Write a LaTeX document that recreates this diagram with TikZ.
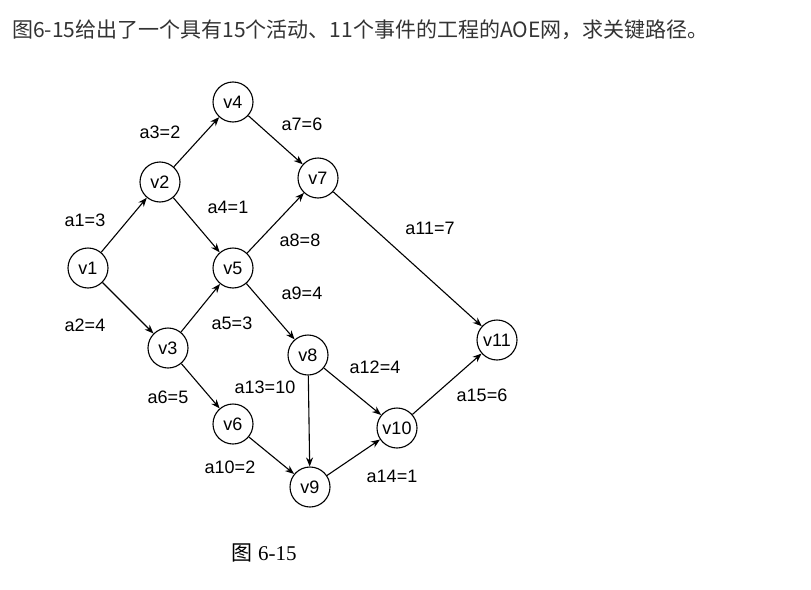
\documentclass[tikz,border=0pt]{standalone}
\usepackage{fontspec}
\setmainfont{Liberation Sans}
\newfontfamily\cjk{Noto Sans CJK SC}
\newfontfamily\serifcjk{Liberation Serif}
\usetikzlibrary{arrows.meta}
\begin{document}
\begin{tikzpicture}[x=1pt,y=-1pt,
  ev/.style={circle,draw,line width=1.1pt,minimum size=40pt,inner sep=0pt,font=\fontsize{18}{18}\selectfont},
  act/.style={-{Stealth[length=9pt,width=7pt]},line width=1.1pt},
  lab/.style={font=\fontsize{18}{18}\selectfont}]
\fill[white] (0,0) rectangle (811,589);
\useasboundingbox (0,0) rectangle (811,589);
\node[anchor=west,text=black!80,font=\cjk\fontsize{21}{21}\selectfont,inner sep=0pt] (title) at (12,30) {图6-15给出了一个具有15个活动、11个事件的工程的AOE网，求关键路径。};
\node[ev] (v1) at (88,268) {v1};
\node[ev] (v2) at (160,182) {v2};
\node[ev] (v3) at (168,348) {v3};
\node[ev] (v4) at (233,102) {v4};
\node[ev] (v5) at (233,268) {v5};
\node[ev] (v6) at (233,424) {v6};
\node[ev] (v7) at (318,178) {v7};
\node[ev] (v8) at (308,355) {v8};
\node[ev] (v9) at (310,487) {v9};
\node[ev] (v10) at (397,428) {v10};
\node[ev] (v11) at (497,340) {v11};
\draw[act] (v1)--(v2); \draw[act] (v1)--(v3);
\draw[act] (v2)--(v4); \draw[act] (v2)--(v5);
\draw[act] (v3)--(v5); \draw[act] (v3)--(v6);
\draw[act] (v4)--(v7); \draw[act] (v5)--(v7);
\draw[act] (v5)--(v8); \draw[act] (v6)--(v9);
\draw[act] (v7)--(v11); \draw[act] (v8)--(v10);
\draw[act] (v8)--(v9); \draw[act] (v9)--(v10);
\draw[act] (v10)--(v11);
\node[lab] (l1) at (85,220) {a1=3};
\node[lab] (l2) at (85,325) {a2=4};
\node[lab] (l3) at (160,132) {a3=2};
\node[lab] (l4) at (228,207) {a4=1};
\node[lab] (l5) at (232,323) {a5=3};
\node[lab] (l6) at (168,397) {a6=5};
\node[lab] (l7) at (302,124) {a7=6};
\node[lab] (l8) at (300,240) {a8=8};
\node[lab] (l9) at (302,293) {a9=4};
\node[lab] (l10) at (230,467) {a10=2};
\node[lab] (l11) at (430,228) {a11=7};
\node[lab] (l12) at (375,367) {a12=4};
\node[lab] (l13) at (265,387) {a13=10};
\node[lab] (l14) at (392,476) {a14=1};
\node[lab] (l15) at (482,395) {a15=6};
\node[font=\fontsize{21}{21}\selectfont] (cap) at (264,553) {{\cjk 图} {\serifcjk 6-15}};
\end{tikzpicture}
\end{document}
